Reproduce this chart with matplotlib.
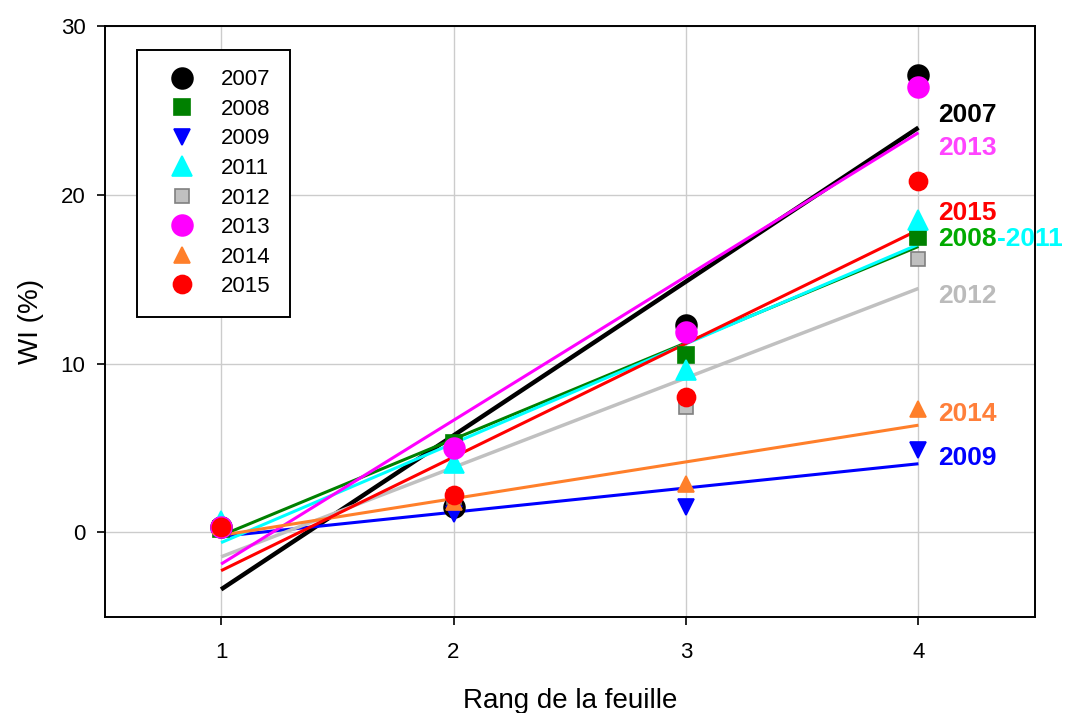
import numpy as np
import matplotlib.pyplot as plt

plt.rcParams['font.family'] = ['Liberation Sans', 'DejaVu Sans']

# rang de la feuille
rang = [1, 2, 3, 4]

# WI (%) par année
wi_2007 = [0.3, 1.5, 12.3, 27.1]
wi_2008 = [0.2, 5.3, 10.5, 17.5]
wi_2009 = [0.2, 1.1, 1.5, 4.85]
wi_2011 = [0.7, 4.1, 9.6, 18.5]
wi_2012 = [0.3, 2.1, 7.4, 16.2]
wi_2013 = [0.3, 5.0, 11.9, 26.4]
wi_2014 = [0.4, 1.8, 2.85, 7.3]
wi_2015 = [0.3, 2.2, 8.0, 20.8]

# étiquettes à droite
lbl_text = ["2007", "2013", "2015", "2012", "2014", "2009"]
lbl_y = [24.7, 22.8, 18.9, 14.0, 7.0, 4.4]

# style : nom, données, couleur, marqueur, taille, bord, largeur ligne
series = [
    ("2007", wi_2007, "black",   "o", 15,   "black",   3.2),
    ("2008", wi_2008, "#008000", "s", 11,   "#008000", 2.2),
    ("2009", wi_2009, "#0000FF", "v", 11.5, "#0000FF", 2.2),
    ("2011", wi_2011, "#00FFFF", "^", 15,   "#00FFFF", 2.2),
    ("2012", wi_2012, "#C0C0C0", "s", 10,   "#808080", 2.5),
    ("2013", wi_2013, "#FF00FF", "o", 15,   "#FF00FF", 2.2),
    ("2014", wi_2014, "#FF7F2A", "^", 11.5, "#FF7F2A", 2.2),
    ("2015", wi_2015, "#FF0000", "o", 13,   "#FF0000", 2.2),
]
lbl_col = {"2007": "black", "2013": "#FF44FF", "2015": "#FF0000",
           "2012": "#BBBBBB", "2014": "#FF7F3A", "2009": "#0000FF"}

fig = plt.figure(figsize=(10.7, 7.13), dpi=100)
ax = fig.add_axes([0.098, 0.135, 0.869, 0.8285])

x = np.array(rang, dtype=float)
for name, y, col, mk, ms, ec, lw in series:
    k, b = np.polyfit(x, y, 1)
    ax.plot([1, 4], [k * 1 + b, k * 4 + b], color=col, lw=lw, zorder=3,
            solid_capstyle="butt")

for name, y, col, mk, ms, ec, lw in series:
    ax.plot(x, y, linestyle="none", marker=mk, markersize=ms, color=col,
            markeredgecolor=ec, markeredgewidth=1.2, label=name, zorder=4)

for t, yy in zip(lbl_text, lbl_y):
    ax.text(4.086, yy, t, color=lbl_col[t], fontsize=19, fontweight="bold",
            va="center", ha="left", zorder=5)
t1 = ax.text(4.086, 17.4, "2008", color="#00AA00", fontsize=19,
             fontweight="bold", va="center", ha="left", zorder=5)
fig.canvas.draw()
ax.annotate("-2011", xycoords=t1, xy=(1, 0.5), va="center", ha="left",
            color="#00FFFF", fontsize=19, fontweight="bold",
            annotation_clip=False, zorder=5)

ax.set_xlim(0.5, 4.5)
ax.set_ylim(-5, 30)
ax.set_xticks([1, 2, 3, 4])
ax.set_yticks([0, 10, 20, 30])
ax.grid(True, color="#CCCCCC", lw=1)
ax.set_axisbelow(True)
ax.tick_params(direction="out", length=6, labelsize=16, width=1.2)
ax.tick_params(axis="x", pad=12)
ax.tick_params(axis="y", pad=8)
for s in ax.spines.values():
    s.set_linewidth(1.4)
ax.set_xlabel("Rang de la feuille", fontsize=20, labelpad=18)
ax.set_ylabel("WI (%)", fontsize=20, labelpad=12)

leg = ax.legend(loc="upper left", bbox_to_anchor=(0.0344, 0.9594),
                fancybox=False, edgecolor="black", framealpha=1,
                fontsize=16, borderpad=0.87, labelspacing=0.385,
                handletextpad=0.6, borderaxespad=0, handlelength=2.3)
leg.get_frame().set_linewidth(1.4)

plt.savefig("out.png", dpi=100)
